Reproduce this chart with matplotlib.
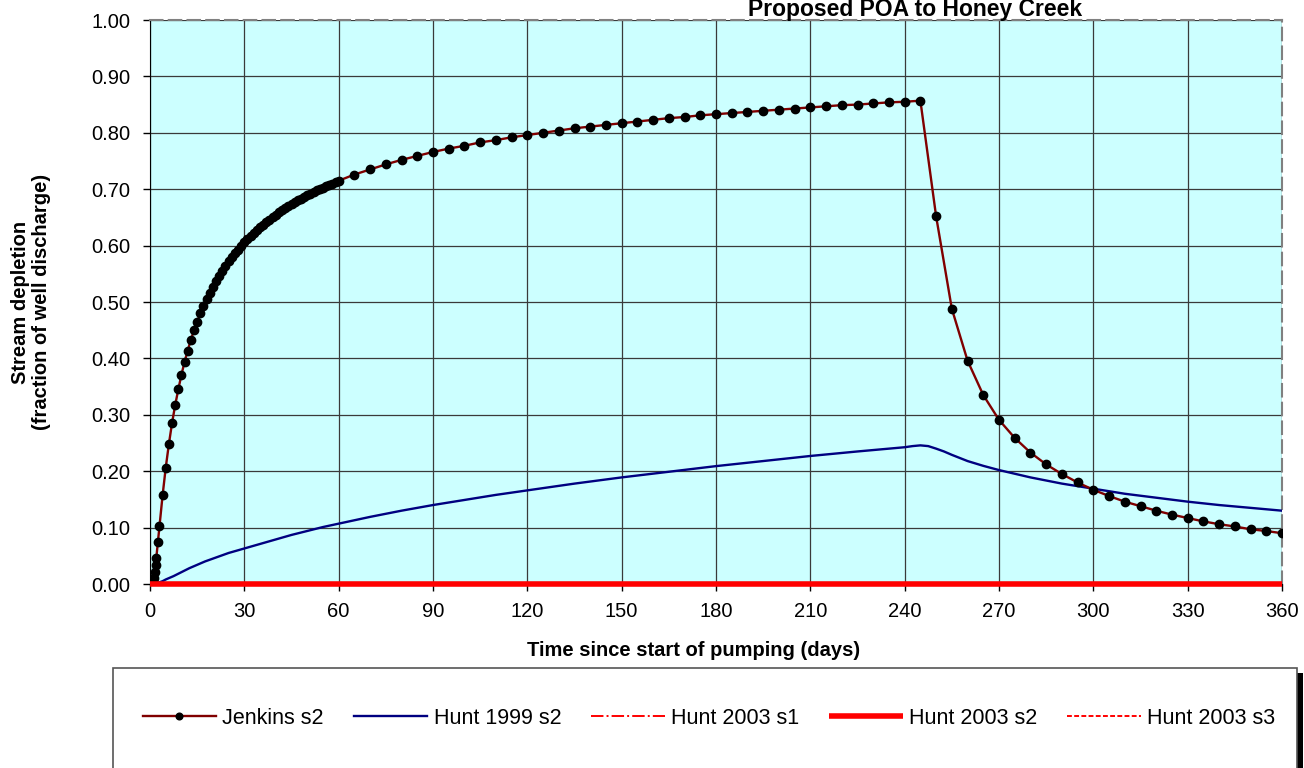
import matplotlib
matplotlib.use("Agg")
import matplotlib.pyplot as plt
from matplotlib.patches import Rectangle

plt.rcParams['font.family'] = ['Liberation Sans', 'DejaVu Sans']

# Jenkins s2 (days, fraction of well discharge)
jenkins_days = [0, 0.25, 0.5, 0.75, 1, 1.25, 1.5, 1.75, 2, 2.5, 3,
                4, 5, 6, 7, 8, 9, 10, 11, 12, 13, 14, 15, 16, 17, 18, 19, 20,
                21, 22, 23, 24, 25, 26, 27, 28, 29, 30, 31, 32, 33, 34, 35, 36,
                37, 38, 39, 40, 41, 42, 43, 44, 45, 46, 47, 48, 49, 50, 51, 52,
                53, 54, 55, 56, 57, 58, 59, 60,
                65, 70, 75, 80, 85, 90, 95, 100, 105, 110, 115, 120, 125, 130,
                135, 140, 145, 150, 155, 160, 165, 170, 175, 180, 185, 190, 195,
                200, 205, 210, 215, 220, 225, 230, 235, 240, 245,
                250, 255, 260, 265, 270, 275, 280, 285, 290, 295, 300, 305, 310,
                315, 320, 325, 330, 335, 340, 345, 350, 355, 360]
jenkins_s2 = [0.0, 0.0, 0.0, 0.001, 0.005, 0.011, 0.021, 0.033, 0.046, 0.074, 0.102,
              0.157, 0.206, 0.248, 0.285, 0.317, 0.345, 0.371, 0.394, 0.414, 0.433,
              0.450, 0.465, 0.480, 0.493, 0.505, 0.516, 0.527,
              0.537, 0.546, 0.555, 0.564, 0.572, 0.579, 0.586, 0.593, 0.599, 0.606,
              0.611, 0.617, 0.622, 0.628, 0.633, 0.637,
              0.642, 0.646, 0.651, 0.655, 0.659, 0.663, 0.666, 0.670, 0.673, 0.677,
              0.680, 0.683, 0.686, 0.689, 0.692, 0.695,
              0.698, 0.700, 0.703, 0.705, 0.708, 0.710, 0.713, 0.715,
              0.726, 0.735, 0.744, 0.752, 0.759, 0.766, 0.772, 0.777, 0.783, 0.787,
              0.792, 0.796, 0.800, 0.804,
              0.808, 0.811, 0.814, 0.817, 0.820, 0.823, 0.826, 0.828, 0.831, 0.833,
              0.835, 0.837, 0.839,
              0.841, 0.843, 0.845, 0.847, 0.849, 0.850, 0.852, 0.854, 0.855, 0.857,
              0.652, 0.488, 0.396, 0.335, 0.291, 0.259, 0.233, 0.212, 0.195, 0.180,
              0.167, 0.156, 0.146,
              0.138, 0.130, 0.123, 0.117, 0.111, 0.106, 0.102, 0.097, 0.094, 0.090]

# Hunt 1999 s2
hunt99_days = [0, 1, 2, 3, 4, 5, 7.5, 10, 12.5, 15, 17.5, 20, 22.5, 25, 27.5, 30,
               35, 40, 45, 50, 55, 60, 70, 80, 90, 100, 110, 120,
               135, 150, 165, 180, 195, 210, 225, 235, 240, 242.5, 245, 247.5,
               250, 252.5, 255, 260, 265, 270, 280, 290, 300, 310, 320, 330,
               340, 350, 360]
hunt99_s2 = [0.0, 0.0003, 0.001, 0.003, 0.005, 0.008, 0.014, 0.021, 0.028, 0.034,
             0.040, 0.045, 0.050, 0.055, 0.059, 0.063,
             0.071, 0.079, 0.087, 0.094, 0.101, 0.107, 0.119, 0.130, 0.140, 0.149,
             0.158, 0.166,
             0.178, 0.189, 0.199, 0.209, 0.218, 0.227, 0.235, 0.240, 0.2425, 0.2445,
             0.2458, 0.2445,
             0.240, 0.235, 0.229, 0.218, 0.2095, 0.202, 0.189, 0.178, 0.169, 0.160,
             0.153, 0.146, 0.140, 0.135, 0.130]

# Hunt 2003 (all zero over the period)
hunt03_days = [0, 360]
hunt03_s1 = [0.0, 0.0]
hunt03_s2 = [0.0, 0.0]
hunt03_s3 = [0.0, 0.0]

x_ticks = [0, 30, 60, 90, 120, 150, 180, 210, 240, 270, 300, 330, 360]
y_ticks = [0.0, 0.1, 0.2, 0.3, 0.4, 0.5, 0.6, 0.7, 0.8, 0.9, 1.0]

W, H = 1304, 768
fig = plt.figure(figsize=(W / 100, H / 100), dpi=100)
ax = fig.add_axes([150 / W, 1 - 584 / H, (1282 - 150) / W, (584 - 20) / H])
ax.set_facecolor('#CCFFFF')

l1, = ax.plot(jenkins_days, jenkins_s2, color='#800000', lw=1.7, marker='o',
              markersize=6, markerfacecolor='black', markeredgecolor='black',
              label='Jenkins s2', zorder=5)
l2, = ax.plot(hunt99_days, hunt99_s2, color='#000080', lw=1.7, label='Hunt 1999 s2', zorder=4)
l3, = ax.plot(hunt03_days, hunt03_s1, color='red', lw=1.4, ls='-.', label='Hunt 2003 s1', zorder=3)
l4, = ax.plot(hunt03_days, hunt03_s2, color='red', lw=4.0, label='Hunt 2003 s2',
              solid_capstyle='butt', clip_on=False, zorder=6)
l5, = ax.plot(hunt03_days, hunt03_s3, color='red', lw=1.4, ls='--', dashes=(2.5, 1.2),
              label='Hunt 2003 s3', zorder=3)

ax.set_xlim(0, 360)
ax.set_ylim(0, 1)
ax.set_xticks(x_ticks)
ax.set_yticks(y_ticks)
ax.set_yticklabels(['%.2f' % v for v in y_ticks])
ax.grid(True, color='#3a3a3a', lw=0.9)
ax.set_axisbelow(True)
ax.tick_params(axis='both', direction='out', length=5, width=1, color='black',
               labelsize=14.5)
ax.tick_params(axis='y', pad=9)
ax.tick_params(axis='x', pad=8)

for side in ['top', 'right']:
    ax.spines[side].set_color('#808080')
    ax.spines[side].set_linestyle((0, (6, 3)))
    ax.spines[side].set_linewidth(1.5)
ax.spines['left'].set_color('black')
ax.spines['bottom'].set_color('black')

fig.text(694 / W, 1 - 650 / H, 'Time since start of pumping (days)', ha='center',
         va='center', fontsize=14.5, fontweight='bold')
fig.text(31 / W, 1 - 302 / H, 'Stream depletion\n(fraction of well discharge)',
         ha='center', va='center', rotation=90, fontsize=14.5, fontweight='bold',
         multialignment='center', linespacing=1.15)
fig.text(915 / W, 1 - 16 / H, 'Proposed POA to Honey Creek', ha='center',
         va='baseline', fontsize=16.5, fontweight='bold')

# legend frame with shadow, running past the bottom edge
fig.add_artist(Rectangle((1297 / W, 0), 6 / W, (768 - 673) / H,
                         transform=fig.transFigure, facecolor='black',
                         edgecolor='none'))
fig.add_artist(Rectangle((113 / W, -0.05), (1297 - 113) / W, 0.05 + (768 - 668) / H,
                         transform=fig.transFigure, facecolor='white',
                         edgecolor='#555555', lw=1.2))
fig.legend(handles=[l1, l2, l3, l4, l5], loc='center', ncol=5,
           bbox_to_anchor=(709 / W, 1 - 718 / H), frameon=False, fontsize=15.5,
           handlelength=3.4, handletextpad=0.3, columnspacing=1.4, markerscale=0.8)

fig.savefig('out.png', dpi=100)
